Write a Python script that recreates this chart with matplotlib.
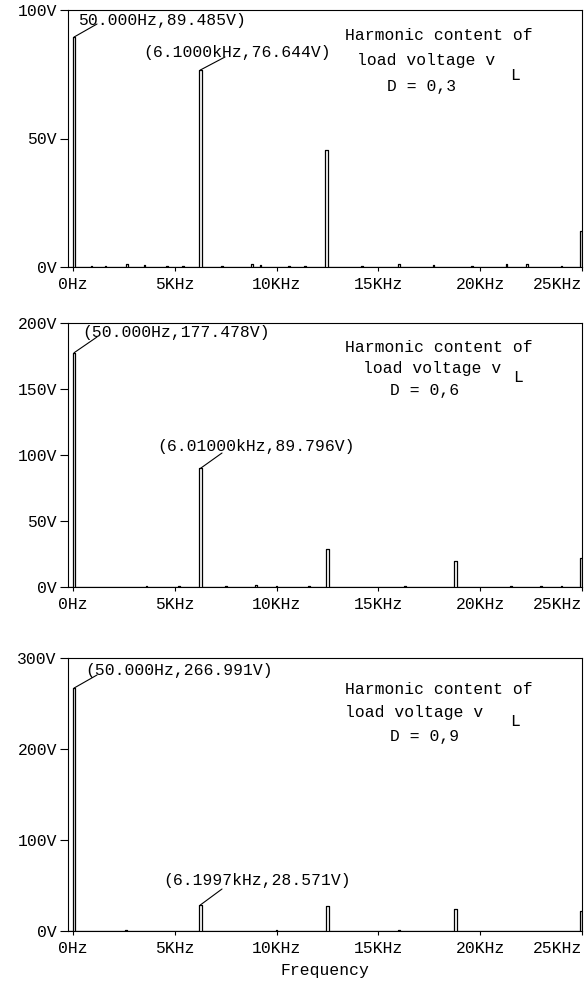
import matplotlib.pyplot as plt
import numpy as np

plt.rcParams['font.family'] = ['Liberation Mono', 'DejaVu Sans Mono']
FS = 11.8
W, H = 588, 981


def px(x, y):
    # image pixel -> figure fraction
    return (x / W, 1 - y / H)


# x axis (kHz)
freq_ticks = [0, 5, 10, 15, 20, 25]
freq_labels = ['0Hz', '5KHz', '10KHz', '15KHz', '20KHz', '25KHz']

# D = 0,3
peaks_f_03 = [0.05, 6.25, 12.45, 24.95]
peaks_a_03 = [89.485, 76.644, 45.5, 14.0]
noise_f_03 = [0.9, 1.6, 2.65, 3.5, 4.6, 5.4, 7.3, 8.8, 9.2, 10.6, 11.4,
              14.2, 16.0, 17.7, 19.6, 21.3, 22.3, 24.0]
noise_a_03 = [0.4, 0.3, 1.3, 0.6, 0.3, 0.4, 0.4, 1.0, 0.6, 0.4, 0.3,
              0.4, 1.2, 0.8, 0.4, 1.3, 1.0, 0.5]
yticks_03 = [0, 50, 100]

# D = 0,6
peaks_f_06 = [0.05, 6.25, 12.5, 18.8, 24.95]
peaks_a_06 = [177.478, 89.796, 29.0, 19.5, 22.0]
noise_f_06 = [3.6, 5.2, 7.5, 9.0, 10.0, 11.6, 16.3, 21.5, 23.0, 24.0]
noise_a_06 = [0.8, 0.4, 0.4, 1.3, 0.7, 0.4, 0.4, 0.6, 0.7, 0.5]
yticks_06 = [0, 50, 100, 150, 200]

# D = 0,9
peaks_f_09 = [0.05, 6.25, 12.5, 18.8, 24.95]
peaks_a_09 = [266.991, 28.571, 27.0, 24.0, 22.5]
noise_f_09 = [2.6, 3.6, 7.4, 10.0, 13.8, 16.0, 21.0, 23.2]
noise_a_09 = [0.8, 0.5, 0.4, 0.9, 0.4, 0.7, 0.4, 0.5]
yticks_09 = [0, 100, 200, 300]

panels = [
    dict(rect=(68, 10, 582, 267), pf=peaks_f_03, pa=peaks_a_03, nf=noise_f_03,
         na=noise_a_03, yt=yticks_03, D='D = 0,3',
         txt=[(345, 36), (357, 60), (510, 76), (387, 87)],
         notes=[('50.000Hz,89.485V)', 0, (78, 21), (97, 24)),
                ('(6.1000kHz,76.644V)', 1, (143, 53), (225, 57))]),
    dict(rect=(68, 323, 582, 587), pf=peaks_f_06, pa=peaks_a_06, nf=noise_f_06,
         na=noise_a_06, yt=yticks_06, D='D = 0,6',
         txt=[(345, 348), (363, 369), (513, 377), (390, 390)],
         notes=[('(50.000Hz,177.478V)', 0, (82, 333), (97, 337)),
                ('(6.01000kHz,89.796V)', 1, (157, 447), (222, 453))]),
    dict(rect=(68, 658, 582, 931), pf=peaks_f_09, pa=peaks_a_09, nf=noise_f_09,
         na=noise_a_09, yt=yticks_09, D='D = 0,9',
         txt=[(345, 689), (345, 713), (510, 722), (390, 737)],
         notes=[('(50.000Hz,266.991V)', 0, (85, 671), (97, 675)),
                ('(6.1997kHz,28.571V)', 1, (163, 880), (222, 889))]),
]

fig = plt.figure(figsize=(W / 100, H / 100), dpi=100)

for p in panels:
    x0, y0, x1, y1 = p['rect']
    ax = fig.add_axes([x0 / W, 1 - y1 / H, (x1 - x0) / W, (y1 - y0) / H])

    # spectrum as one polyline, each component a thin up/down pulse
    comp_f = list(p['pf']) + list(p['nf'])
    comp_a = list(p['pa']) + list(p['na'])
    comp_w = [0.04] + [0.07] * (len(p['pf']) - 1) + [0.04] * len(p['nf'])
    order = np.argsort(comp_f)
    xs, ys = [-0.25], [0]
    for i in order:
        f, a, w = comp_f[i], comp_a[i], comp_w[i]
        xs += [f - w, f - w, f + w, f + w]
        ys += [0, a, a, 0]
    xs.append(25)
    ys.append(0)
    ax.plot(xs, ys, color='black', lw=0.9)

    ax.set_xlim(-0.25, 25)
    ax.set_ylim(0, p['yt'][-1])
    ax.set_xticks(freq_ticks)
    ax.set_xticklabels(freq_labels, fontsize=FS)
    ax.get_xticklabels()[-1].set_ha('right')
    ax.set_yticks(p['yt'])
    ax.set_yticklabels([f'{v}V' for v in p['yt']], fontsize=FS)
    ax.tick_params(axis='x', length=3, width=0.8, pad=4)
    ax.tick_params(axis='y', length=6, width=0.8, pad=2)
    for s in ax.spines.values():
        s.set_linewidth(0.8)

    lines = ['Harmonic content of', 'load voltage v', 'L', p['D']]
    for s, (tx, ty) in zip(lines, p['txt']):
        fig.text(*px(tx, ty), s, fontsize=FS, ha='left', va='center')

    for label, k, tpos, lend in p['notes']:
        fig.text(*px(*tpos), label, fontsize=FS, ha='left', va='center')
        ax.annotate('', xy=(p['pf'][k], p['pa'][k]), xycoords='data',
                    xytext=px(*lend), textcoords='figure fraction',
                    arrowprops=dict(arrowstyle='-', color='black', lw=0.8,
                                    shrinkA=0, shrinkB=0))

fig.text(*px(325, 970), 'Frequency', fontsize=FS, ha='center', va='center')

plt.savefig('out.png', dpi=100)
